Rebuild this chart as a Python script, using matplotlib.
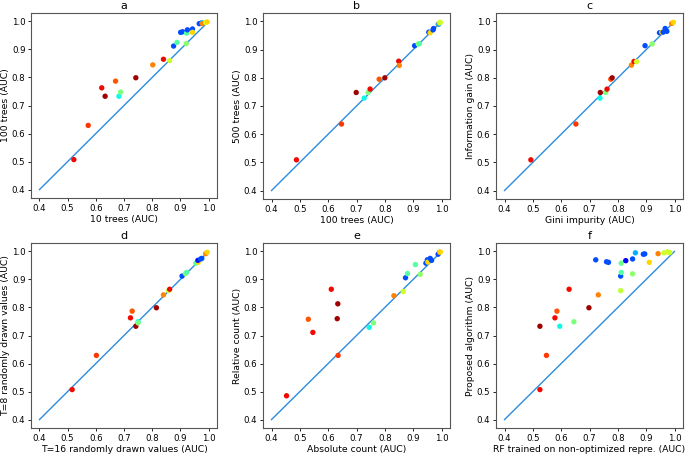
import matplotlib
matplotlib.use("Agg")
import matplotlib.pyplot as plt

# AUC of each dataset for the two settings compared in each panel,
# plus the dataset's position on the jet colour scale
a_x = [0.522, 0.573, 0.621, 0.633, 0.670, 0.682, 0.688, 0.742, 0.802, 0.840, 0.862, 0.876, 0.888,
       0.921, 0.901, 0.908, 0.922, 0.925, 0.943, 0.943, 0.967, 0.972, 0.977, 0.978, 0.990, 0.995]
a_y = [0.507, 0.629, 0.763, 0.733, 0.787, 0.733, 0.748, 0.799, 0.845, 0.865, 0.860, 0.912, 0.925,
       0.921, 0.961, 0.963, 0.958, 0.970, 0.973, 0.961, 0.992, 0.993, 0.995, 0.992, 0.996, 0.998]
a_c = [0.90, 0.85, 0.90, 0.97, 0.82, 0.37, 0.50, 0.97, 0.77, 0.90, 0.60, 0.20, 0.45,
       0.52, 0.20, 0.20, 0.45, 0.20, 0.20, 0.68, 0.20, 0.20, 0.30, 0.77, 0.60, 0.68]

b_x = [0.488, 0.647, 0.699, 0.727, 0.741, 0.748, 0.780, 0.800, 0.849, 0.851, 0.905,
       0.918, 0.922, 0.955, 0.960, 0.970, 0.972, 0.988, 0.990, 0.993, 0.996]
b_y = [0.509, 0.636, 0.748, 0.728, 0.748, 0.760, 0.795, 0.800, 0.859, 0.844, 0.914,
       0.920, 0.921, 0.962, 0.960, 0.970, 0.975, 0.990, 0.990, 0.995, 0.997]
b_c = [0.90, 0.85, 0.97, 0.37, 0.50, 0.90, 0.82, 0.97, 0.90, 0.77, 0.20,
       0.52, 0.45, 0.20, 0.68, 0.20, 0.20, 0.77, 0.30, 0.68, 0.60]

c_x = [0.493, 0.652, 0.738, 0.737, 0.757, 0.762, 0.775, 0.780, 0.848, 0.857, 0.866,
       0.896, 0.921, 0.947, 0.955, 0.960, 0.967, 0.973, 0.990, 0.996]
c_y = [0.509, 0.636, 0.748, 0.728, 0.748, 0.760, 0.795, 0.800, 0.845, 0.858, 0.857,
       0.914, 0.920, 0.960, 0.962, 0.962, 0.975, 0.965, 0.993, 0.997]
c_c = [0.90, 0.85, 0.97, 0.37, 0.50, 0.90, 0.82, 0.97, 0.77, 0.90, 0.60,
       0.20, 0.52, 0.20, 0.68, 0.20, 0.20, 0.20, 0.77, 0.68]

d_x = [0.516, 0.602, 0.723, 0.729, 0.742, 0.750, 0.750, 0.815, 0.840, 0.858, 0.862,
       0.906, 0.918, 0.922, 0.955, 0.963, 0.962, 0.972, 0.976, 0.990, 0.995]
d_y = [0.507, 0.629, 0.763, 0.787, 0.733, 0.749, 0.745, 0.799, 0.845, 0.860, 0.865,
       0.912, 0.921, 0.925, 0.958, 0.961, 0.968, 0.973, 0.975, 0.992, 0.997]
d_c = [0.90, 0.85, 0.90, 0.82, 0.97, 0.37, 0.50, 0.97, 0.77, 0.60, 0.90,
       0.20, 0.52, 0.45, 0.45, 0.68, 0.15, 0.20, 0.20, 0.77, 0.68]

e_x = [0.453, 0.530, 0.546, 0.611, 0.632, 0.634, 0.635, 0.745, 0.760, 0.832, 0.865, 0.873,
       0.880, 0.908, 0.925, 0.945, 0.950, 0.952, 0.960, 0.965, 0.988, 0.993, 0.996]
e_y = [0.485, 0.758, 0.711, 0.865, 0.760, 0.813, 0.629, 0.729, 0.745, 0.842, 0.857, 0.906,
       0.921, 0.953, 0.918, 0.958, 0.970, 0.962, 0.975, 0.968, 0.990, 0.997, 0.998]
e_c = [0.90, 0.82, 0.90, 0.90, 0.97, 0.97, 0.85, 0.37, 0.50, 0.77, 0.60, 0.20,
       0.45, 0.45, 0.52, 0.20, 0.20, 0.68, 0.20, 0.20, 0.20, 0.77, 0.68]

f_x = [0.525, 0.548, 0.525, 0.578, 0.585, 0.595, 0.628, 0.645, 0.698, 0.731, 0.722, 0.760, 0.767, 0.810,
       0.812, 0.812, 0.810, 0.828, 0.852, 0.852, 0.862, 0.890, 0.895, 0.911, 0.942, 0.963, 0.975, 0.983]
f_y = [0.507, 0.629, 0.733, 0.763, 0.787, 0.733, 0.865, 0.749, 0.799, 0.845, 0.970, 0.963, 0.961, 0.912,
       0.925, 0.958, 0.860, 0.967, 0.920, 0.973, 0.995, 0.990, 0.991, 0.961, 0.992, 0.995, 0.998, 0.996]
f_c = [0.90, 0.85, 0.97, 0.90, 0.82, 0.37, 0.90, 0.50, 0.97, 0.77, 0.20, 0.20, 0.20, 0.20,
       0.45, 0.48, 0.58, 0.12, 0.52, 0.20, 0.30, 0.20, 0.20, 0.68, 0.77, 0.60, 0.60, 0.60]

titles = ["a", "b", "c", "d", "e", "f"]
x_labels = ["10 trees (AUC)", "100 trees (AUC)", "Gini impurity (AUC)",
            "T=16 randomly drawn values (AUC)", "Absolute count (AUC)",
            "RF trained on non-optimized repre. (AUC)"]
y_labels = ["100 trees (AUC)", "500 trees (AUC)", "Information gain (AUC)",
            "T=8 randomly drawn values (AUC)", "Relative count (AUC)",
            "Proposed algorithm (AUC)"]
diag = [0.4, 1.0]
ticks = [0.4, 0.5, 0.6, 0.7, 0.8, 0.9, 1.0]

panels = [(a_x, a_y, a_c), (b_x, b_y, b_c), (c_x, c_y, c_c),
          (d_x, d_y, d_c), (e_x, e_y, e_c), (f_x, f_y, f_c)]

W, H = 685, 454
# axes boxes in pixels: left, top, right, bottom
boxes = [(31, 13, 217, 198), (263, 13, 450, 199), (496, 13, 683, 199),
         (31, 243, 217, 428), (263, 243, 450, 428), (496, 243, 683, 428)]

fig = plt.figure(figsize=(W / 100, H / 100), dpi=100)

for i, (xs, ys, cs) in enumerate(panels):
    l, t, r, b = boxes[i]
    ax = fig.add_axes([l / W, 1 - b / H, (r - l) / W, (b - t) / H])
    ax.plot(diag, diag, color="#2b8ce0", linewidth=1.0)
    ax.scatter(xs, ys, c=cs, cmap="jet", vmin=0, vmax=1, s=15, linewidths=0, zorder=3)
    ax.set_xlim(0.37, 1.03)
    ax.set_ylim(0.37, 1.03)
    ax.set_xticks(ticks)
    ax.set_yticks(ticks)
    ax.tick_params(labelsize=6.2, length=2.5, width=0.6, pad=1.5)
    ax.set_title(titles[i], fontsize=8, pad=3)
    ax.set_xlabel(x_labels[i], fontsize=6.7, labelpad=1.5)
    ax.set_ylabel(y_labels[i], fontsize=6.7, labelpad=1.5)
    for s in ax.spines.values():
        s.set_color("#555555")
        s.set_linewidth(0.8)

fig.savefig("out.png", dpi=100)
